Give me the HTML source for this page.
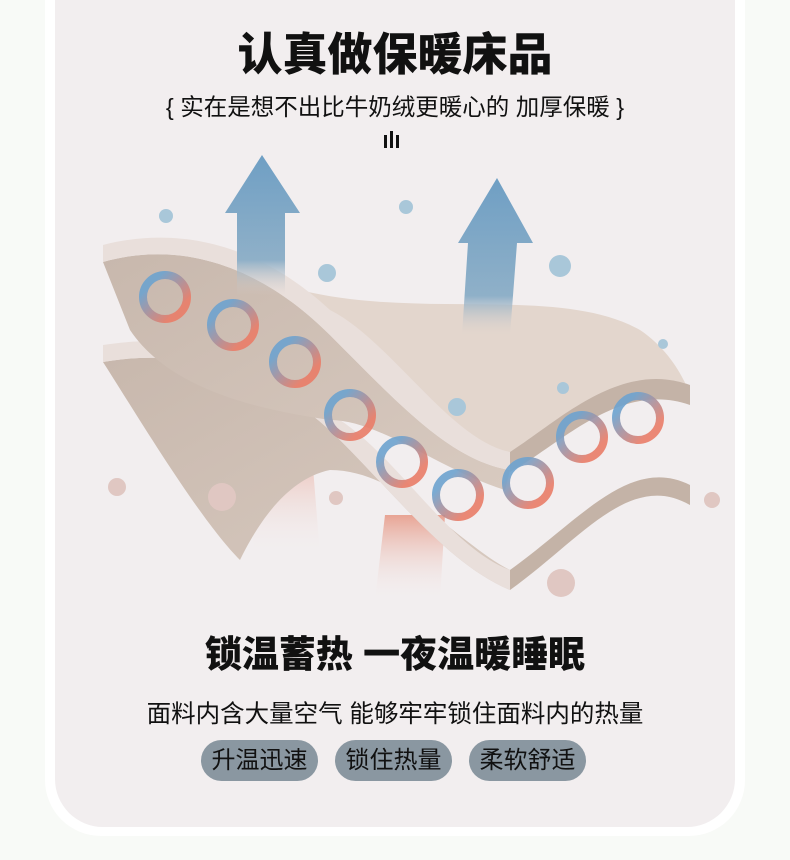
<!DOCTYPE html>
<html><head><meta charset="utf-8"><style>
html,body{margin:0;padding:0;}
body{width:790px;height:860px;background:#f8faf7;position:relative;overflow:hidden;font-family:"Liberation Sans","Noto Sans CJK SC",sans-serif;}
.frame{position:absolute;left:45px;top:-40px;width:700px;height:876px;background:#fff;border-radius:0 0 56px 56px;}
.card{position:absolute;left:55px;top:-40px;width:680px;height:867px;background:#f2eeef;border-radius:0 0 48px 48px;}
.t{position:absolute;left:0;width:790px;text-align:center;color:#111;white-space:nowrap;}
.pill{position:absolute;top:740px;height:41px;width:117px;background:#8a97a1;border-radius:21px;color:#111;font-size:24px;line-height:41px;text-align:center;}
</style></head><body>
<div class="frame"></div><div class="card"></div>
<svg style="position:absolute;left:0;top:0" width="790" height="860">
<defs>
<linearGradient id="ba" x1="0" y1="0" x2="0" y2="1"><stop offset="0" stop-color="#6f9fc4"/><stop offset="0.75" stop-color="#8fb0c8"/><stop offset="1" stop-color="#d8cfca" stop-opacity="0"/></linearGradient>
<linearGradient id="ra" x1="0" y1="0" x2="0" y2="1"><stop offset="0" stop-color="#e8a494"/><stop offset="1" stop-color="#f2eeef" stop-opacity="0"/></linearGradient>
<linearGradient id="ring" x1="0" y1="0" x2="1" y2="1"><stop offset="0.2" stop-color="#6ea3cf"/><stop offset="0.8" stop-color="#ea7d68"/></linearGradient>
<linearGradient id="tan" x1="0" y1="0" x2="1" y2="1"><stop offset="0" stop-color="#c8b8ad"/><stop offset="1" stop-color="#d8cac0"/></linearGradient>
</defs>
<path d="M240,430 L310,430 L320,555 L255,555 Z" fill="url(#ra)"/>
<path d="M385,515 L445,515 L440,600 L375,600 Z" fill="url(#ra)"/>
<path d="M103,362 C200,345 280,380 340,440 S450,565 510,590 L510,570 C460,545 400,470 330,470 C280,480 250,540 240,560 C200,520 140,420 103,362 Z" fill="url(#tan)"/>
<path d="M103,362 C200,345 280,380 340,440 S450,565 510,590 C580,540 630,470 690,505 L690,485 C630,455 580,520 510,570 C450,548 400,460 340,420 C280,360 200,330 103,345 Z" fill="#e9dfdb"/>
<path d="M510,570 C580,520 630,455 690,485 L690,505 C630,470 580,540 510,590 Z" fill="#c4b3a7"/>
<path d="M300,290 C420,320 560,285 640,330 C670,350 685,380 690,395 C620,360 570,420 510,465 C450,450 400,390 340,330 Z" fill="#e3d6cd"/>
<path d="M103,262 C180,240 260,265 330,335 S450,460 510,470 L505,490 C440,470 380,420 330,420 C260,410 170,390 130,330 Z" fill="url(#tan)"/>
<path d="M103,262 C180,240 260,265 330,335 S450,460 510,470 C560,440 620,380 690,400 L690,385 C620,360 560,420 510,452 C450,440 390,340 330,310 C260,245 180,225 103,245 Z" fill="#e9dfdb"/>
<path d="M510,452 C560,420 620,360 690,385 L690,405 C620,380 560,445 510,472 Z" fill="#c4b3a7"/>
<path d="M262,155 L300,213 L285,213 L285,295 L237,295 L237,213 L225,213 Z" fill="url(#ba)"/>
<path d="M497,178 L533,243 L517,243 L510,335 L462,335 L468,243 L458,243 Z" fill="url(#ba)"/>
<g fill="none" stroke="url(#ring)" stroke-width="8" opacity="0.9">
<circle cx="165" cy="297" r="22"/><circle cx="233" cy="325" r="22"/><circle cx="295" cy="362" r="22"/>
<circle cx="350" cy="415" r="22"/><circle cx="402" cy="462" r="22"/><circle cx="458" cy="495" r="22"/>
<circle cx="528" cy="483" r="22"/><circle cx="582" cy="437" r="22"/><circle cx="638" cy="418" r="22"/>
</g>
<g fill="#a9c7d9">
<circle cx="166" cy="216" r="7"/><circle cx="406" cy="207" r="7"/><circle cx="327" cy="273" r="9"/><circle cx="560" cy="266" r="11"/><circle cx="663" cy="344" r="5"/><circle cx="457" cy="407" r="9"/><circle cx="563" cy="388" r="6"/>
</g>
<g fill="#e0c7c2">
<circle cx="117" cy="487" r="9"/><circle cx="222" cy="497" r="14"/><circle cx="336" cy="498" r="7"/><circle cx="712" cy="500" r="8"/><circle cx="561" cy="583" r="14"/>
</g>
</svg>
<div class="t" style="top:27px;font-size:45px;font-weight:900;line-height:56px;">认真做保暖床品</div>
<div class="t" style="top:92px;font-size:23.5px;line-height:30px;">{&nbsp;实在是想不出比牛奶绒更暖心的 加厚保暖&nbsp;}</div>
<div style="position:absolute;left:384px;top:135px;width:3px;height:13px;background:#111"></div>
<div style="position:absolute;left:390px;top:131px;width:3px;height:17px;background:#111"></div>
<div style="position:absolute;left:396px;top:135px;width:3px;height:13px;background:#111"></div>
<div class="t" style="top:632px;font-size:37px;font-weight:900;line-height:46px;">锁温蓄热 一夜温暖睡眠</div>
<div class="t" style="top:700px;font-size:24.5px;line-height:30px;">面料内含大量空气 能够牢牢锁住面料内的热量</div>
<div class="pill" style="left:201px">升温迅速</div>
<div class="pill" style="left:335px">锁住热量</div>
<div class="pill" style="left:469px">柔软舒适</div>
</body></html>
